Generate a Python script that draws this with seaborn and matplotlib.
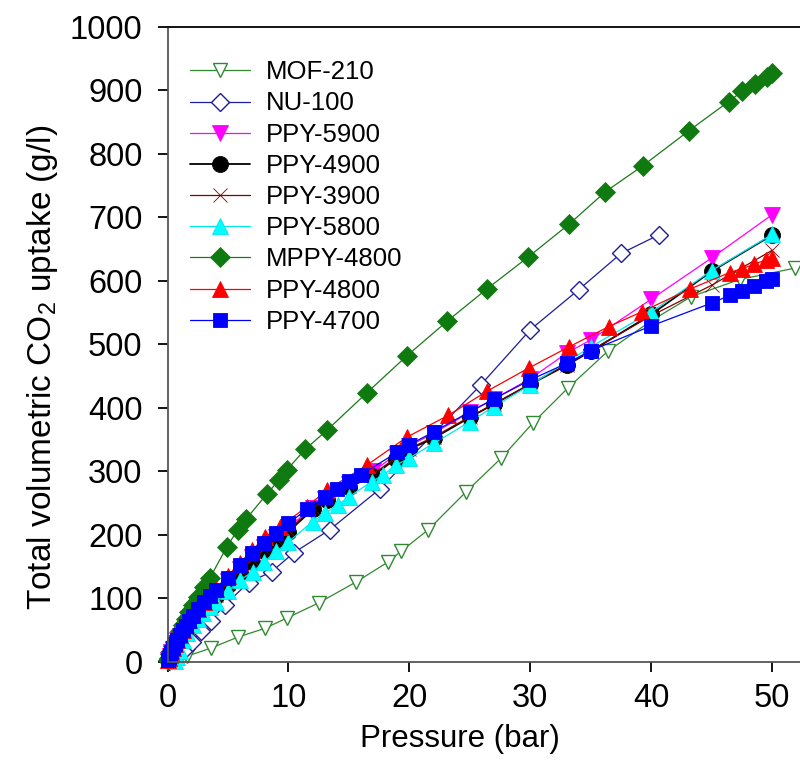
import matplotlib
matplotlib.use("Agg")
import matplotlib.pyplot as plt
import pandas as pd
import seaborn as sns

# series names, in legend / drawing order
names = ["MOF-210", "NU-100", "PPY-5900", "PPY-4900", "PPY-3900",
         "PPY-5800", "MPPY-4800", "PPY-4800", "PPY-4700"]

mof210_p = [0.3, 1.6, 3.6, 5.8, 8.06, 9.85, 12.5, 15.6, 18.2, 19.3, 21.55, 24.7,
            27.6, 30.2, 33.1, 36.4, 40.0, 43.3, 47.3, 51.9]
mof210_q = [1, 9, 22, 39, 53, 69, 93, 126, 157, 174, 208, 268,
            321, 376, 431, 489, 537, 575, 602, 620]

nu100_p = [0.1, 0.3, 0.6, 1.0, 1.5, 2.0, 2.8, 3.6, 4.75, 6.7, 8.6, 10.45, 13.4,
           17.6, 25.9, 30.0, 34.0, 37.5, 40.6]
nu100_q = [1, 4, 8, 14, 22, 32, 48, 65, 90, 125, 142, 172, 208,
           273, 436, 523, 586, 643, 672]

ppy5900_p = [0.05, 0.1, 0.2, 0.3, 0.45, 0.6, 0.8, 1.0, 1.25, 1.5, 1.8, 2.1, 2.5,
             3.0, 3.5, 4.0, 5.0, 6.0, 7.0, 8.0, 9.0, 10.0, 12.0, 13.0, 15.0,
             17.0, 19.0, 20.0, 22.0, 25.0, 27.0, 30.0, 33.0, 35.0, 40.0, 45.0, 50.0]
ppy5900_q = [3, 5, 10, 15, 21, 27, 34, 41, 48, 56, 64, 72, 81,
             92, 101, 108, 127, 147, 165, 181, 197, 212, 243, 257, 280,
             300, 328, 340, 360, 393, 414, 446, 486, 507, 571, 636, 704]

ppy4900_p = [0.05, 0.1, 0.2, 0.3, 0.45, 0.6, 0.8, 1.0, 1.25, 1.5, 1.8, 2.1, 2.5,
             3.0, 3.5, 4.0, 5.0, 6.0, 7.0, 8.0, 9.0, 10.0, 12.0, 13.2, 15.0,
             16.9, 18.9, 20.0, 22.0, 25.0, 27.0, 30.0, 33.0, 35.0, 40.0, 45.0, 50.0]
ppy4900_q = [3, 5, 10, 15, 20, 26, 33, 40, 47, 54, 62, 70, 79,
             90, 98, 104, 121, 141, 158, 174, 190, 205, 240, 255, 275,
             292, 320, 335, 352, 385, 406, 437, 467, 489, 547, 615, 672]

ppy3900_p = ppy4900_p
ppy3900_q = [3, 5, 10, 15, 20, 26, 33, 40, 47, 55, 63, 71, 80,
             91, 100, 106, 124, 144, 162, 178, 193, 208, 242, 257, 277,
             294, 322, 336, 354, 386, 406, 438, 468, 490, 545, 593, 648]

ppy5800_p = [0.6, 0.8, 1.0, 1.3, 1.6, 2.1, 2.5, 2.96, 3.5, 4.0, 4.97, 6.0, 7.04,
             8.0, 9.0, 10.0, 12.0, 13.0, 14.1, 15.0, 16.9, 17.8, 18.9, 20.0,
             22.0, 25.0, 27.0, 30.0, 35.0, 40.0, 45.0, 50.0]
ppy5800_q = [2, 8, 18, 35, 45, 58, 67, 77, 86, 95, 111, 129, 142,
             158, 174, 189, 221, 234, 247, 260, 284, 294, 310, 321,
             344, 378, 402, 436, 496, 551, 616, 673]

mppy4800_p = [0.05, 0.1, 0.2, 0.3, 0.45, 0.6, 0.8, 1.0, 1.25, 1.5, 1.8, 2.1, 2.5,
              3.0, 3.5, 4.9, 5.8, 6.5, 8.2, 9.2, 9.85, 11.4, 13.2, 16.5, 19.8,
              23.1, 26.4, 29.8, 33.2, 36.2, 39.3, 43.1, 46.4, 47.5, 48.6, 49.6, 50.0]
mppy4800_q = [3, 6, 12, 18, 25, 32, 40, 48, 58, 67, 78, 89, 102,
              118, 132, 181, 208, 225, 264, 286, 302, 335, 365, 424, 482,
              536, 587, 637, 689, 740, 781, 836, 882, 898, 909, 920, 927]

ppy4800_p = [0.05, 0.1, 0.2, 0.3, 0.45, 0.6, 0.8, 1.0, 1.25, 1.5, 1.8, 2.1, 2.5,
             3.0, 3.5, 4.0, 5.0, 6.0, 7.0, 8.06, 9.3, 11.5, 13.2, 16.5, 19.8,
             23.2, 26.4, 29.9, 33.2, 36.5, 39.2, 43.2, 46.5, 47.5, 48.5, 49.5, 50.0]
ppy4800_q = [3, 6, 11, 16, 22, 28, 35, 42, 50, 58, 66, 74, 84,
             95, 105, 115, 135, 156, 176, 197, 213, 244, 271, 310, 354,
             388, 426, 463, 496, 528, 551, 587, 613, 619, 626, 633, 636]

ppy4700_p = [0.05, 0.1, 0.2, 0.3, 0.45, 0.6, 0.8, 1.0, 1.25, 1.5, 1.8, 2.1, 2.5,
             3.0, 3.5, 4.0, 5.0, 6.0, 7.0, 8.0, 9.0, 10.0, 11.5, 13.0, 14.0,
             15.0, 16.0, 19.0, 20.0, 22.0, 25.0, 27.0, 30.0, 33.0, 35.0, 40.0,
             45.0, 46.5, 47.5, 48.5, 49.5, 50.0]
ppy4700_q = [3, 6, 11, 16, 22, 28, 35, 42, 50, 57, 65, 73, 83,
             94, 104, 113, 132, 153, 171, 187, 203, 218, 240, 259, 273,
             285, 295, 330, 342, 362, 394, 414, 444, 470, 490, 529,
             565, 577, 584, 591, 599, 603]

pressures = [mof210_p, nu100_p, ppy5900_p, ppy4900_p, ppy3900_p,
             ppy5800_p, mppy4800_p, ppy4800_p, ppy4700_p]
uptakes = [mof210_q, nu100_q, ppy5900_q, ppy4900_q, ppy3900_q,
           ppy5800_q, mppy4800_q, ppy4800_q, ppy4700_q]

# look of each series: (line/edge colour, marker, face colour, size, line width)
styles = {
    "MOF-210":   ("#2f8a2f", "v", "white", 10, 0.9),
    "NU-100":    ("#1c1c9c", "D", "white", 9, 0.9),
    "PPY-5900":  ("#ff00ff", "v", "#ff00ff", 11.5, 0.9),
    "PPY-4900":  ("black", "o", "black", 11.5, 1.3),
    "PPY-3900":  ("#800000", "x", "#800000", 10, 0.9),
    "PPY-5800":  ("#00e5ee", "^", "#00ffff", 11.5, 0.9),
    "MPPY-4800": ("#1a7a1a", "D", "#0f7a0f", 9.8, 0.9),
    "PPY-4800":  ("#ff0000", "^", "#ff0000", 11.5, 0.9),
    "PPY-4700":  ("#0000ff", "s", "#0000ff", 10.3, 0.9),
}

df = pd.concat(
    [pd.DataFrame({"material": n, "pressure": p, "uptake": q})
     for n, p, q in zip(names, pressures, uptakes)],
    ignore_index=True,
)

sns.set_theme(style="ticks")
plt.rcParams["font.family"] = ["Liberation Sans", "DejaVu Sans"]
plt.rcParams["mathtext.fontset"] = "custom"
plt.rcParams["mathtext.rm"] = "Liberation Sans"
plt.rcParams["mathtext.it"] = "Liberation Sans:italic"
plt.rcParams["text.color"] = "black"
plt.rcParams["axes.labelcolor"] = "black"
plt.rcParams["xtick.color"] = "black"
plt.rcParams["ytick.color"] = "black"

fig = plt.figure(figsize=(8, 7.63), dpi=100)
ax = fig.add_axes([0.2094, 0.1324, 0.7906, 0.8327])

for n in names:
    col, mk, face, ms, lw = styles[n]
    sns.lineplot(
        data=df[df["material"] == n],
        x="pressure", y="uptake",
        estimator=None, sort=False,
        color=col, linewidth=lw,
        marker=mk, markersize=ms,
        markerfacecolor=face, markeredgecolor=col,
        markeredgewidth=1.0 if face == "white" else 0.6,
        clip_on=False, label=n, ax=ax,
    )

ax.set_xlim(0, 52.3)
ax.set_ylim(0, 1000)
ax.set_xticks([0, 10, 20, 30, 40, 50])
ax.set_yticks(range(0, 1001, 100))
ax.spines["right"].set_visible(False)
for s in ax.spines.values():
    s.set_color("#555555")
    s.set_linewidth(1.3)
ax.spines["top"].set_color("black")
ax.tick_params(direction="out", length=7, width=1.3, color="black",
               labelsize=23.5)
ax.tick_params(axis="y", pad=11)
ax.tick_params(axis="x", pad=8)

ax.set_xlabel("Pressure (bar)", fontsize=22.5)
ax.set_ylabel("Total volumetric CO$_2$ uptake (g/l)", fontsize=24)
ax.xaxis.set_label_coords(0.4625, -0.098)
ax.yaxis.set_label_coords(-0.17, 0.464)

ax.legend(loc="upper left", bbox_to_anchor=(0.035, 0.947), frameon=False,
          fontsize=18.5, handlelength=2.35, handletextpad=0.6, labelspacing=0.28,
          borderpad=0, borderaxespad=0)

fig.savefig("out.png", dpi=100)
